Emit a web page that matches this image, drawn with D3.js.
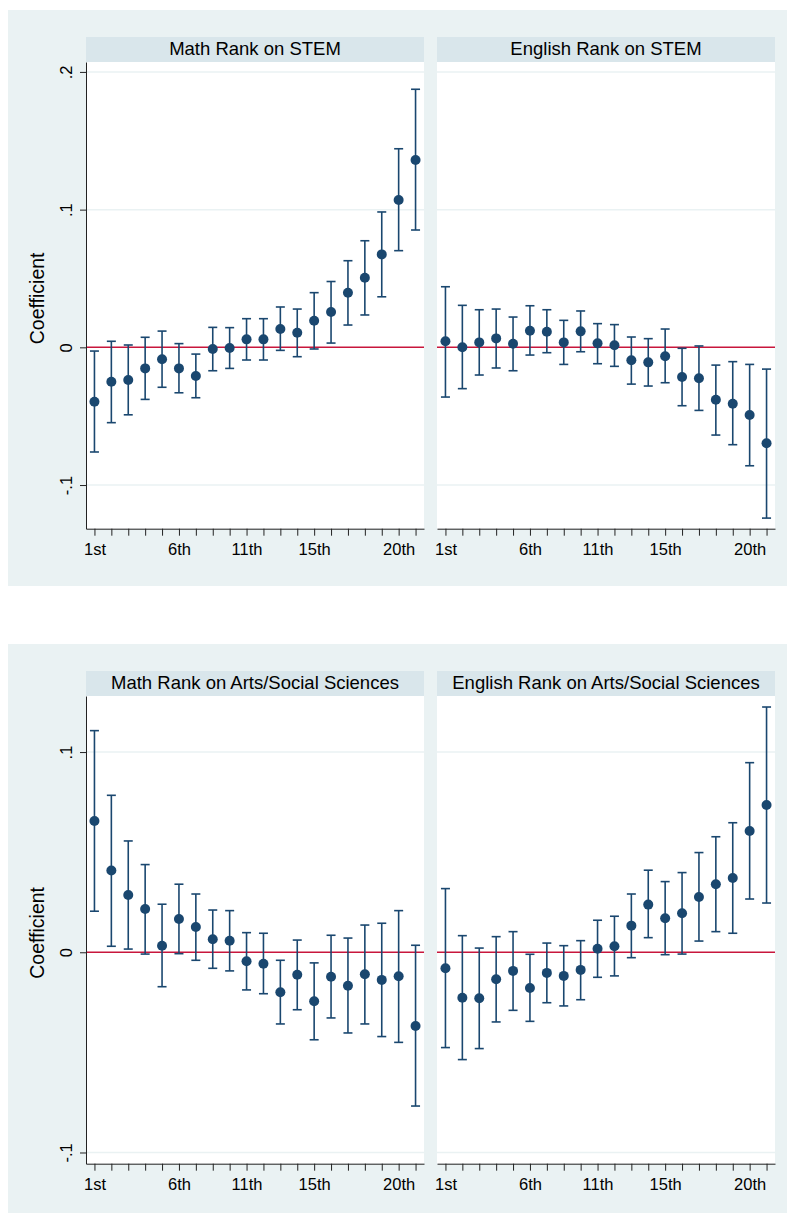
<!DOCTYPE html>
<html>
<head>
<meta charset="utf-8">
<script src="https://cdn.jsdelivr.net/npm/d3@7"></script>
<style>
body { margin: 0; background: #fff; }
text { font-family: "Liberation Sans", Arial, Helvetica, sans-serif; fill: #000; }
</style>
</head>
<body>
<script>
(function(){

//rank positions on the x axis and the labelled ones
var ranks = d3.range(1, 21);
var rankLabels = {1: "1st", 6: "6th", 10: "11th", 14: "15th", 19: "20th"};

//y ticks for each figure
var topTicks = [0.2, 0.1, 0, -0.1];
var topTickLabels = [".2", ".1", "0", "-.1"];
var bottomTicks = [0.1, 0, -0.1];
var bottomTickLabels = [".1", "0", "-.1"];

//panel titles
var titles = ["Math Rank on STEM", "English Rank on STEM",
    "Math Rank on Arts/Social Sciences", "English Rank on Arts/Social Sciences"];

//Math rank on STEM
var mathStemCoef = [-0.0395, -0.025, -0.0237, -0.0153, -0.0087, -0.0153, -0.0208, -0.0012, -0.0005, 0.0058,
    0.0058, 0.0133, 0.0106, 0.0193, 0.0256, 0.0397, 0.0505, 0.0675, 0.107, 0.136];
var mathStemLo = [-0.076, -0.0547, -0.049, -0.0378, -0.029, -0.033, -0.0366, -0.017, -0.0153, -0.0092,
    -0.0092, -0.0022, -0.0068, -0.0012, 0.0031, 0.0162, 0.0235, 0.0367, 0.0702, 0.0852];
var mathStemHi = [-0.0027, 0.0044, 0.0017, 0.0073, 0.0118, 0.0027, -0.0049, 0.0145, 0.0143, 0.0208,
    0.0208, 0.0293, 0.0278, 0.0397, 0.0478, 0.0629, 0.0774, 0.0983, 0.1442, 0.1874];

//English rank on STEM
var engStemCoef = [0.0044, 0.0, 0.0036, 0.0065, 0.0026, 0.0121, 0.0113, 0.0036, 0.0116, 0.0029,
    0.0015, -0.0094, -0.0109, -0.0065, -0.0216, -0.0225, -0.038, -0.041, -0.0492, -0.0697];
var engStemLo = [-0.0361, -0.030, -0.0201, -0.015, -0.017, -0.0056, -0.0039, -0.0124, -0.0032, -0.0119,
    -0.0138, -0.0267, -0.0281, -0.0257, -0.0424, -0.0458, -0.0637, -0.0707, -0.086, -0.124];
var engStemHi = [0.044, 0.0305, 0.0273, 0.0278, 0.022, 0.0302, 0.0273, 0.0196, 0.0264, 0.0172,
    0.0165, 0.0075, 0.0063, 0.0133, -0.0007, 0.001, -0.0129, -0.0104, -0.0124, -0.0158];

//Math rank on Arts/Social Sciences
var mathArtsCoef = [0.0656, 0.0408, 0.0286, 0.0216, 0.0033, 0.0166, 0.0126, 0.0065, 0.0058, -0.0045,
    -0.0057, -0.02, -0.0112, -0.0245, -0.0122, -0.0167, -0.011, -0.0138, -0.012, -0.0368];
var mathArtsLo = [0.0205, 0.003, 0.0016, -0.0009, -0.0172, -0.0007, -0.004, -0.008, -0.0093, -0.0188,
    -0.0207, -0.0358, -0.0287, -0.0437, -0.0328, -0.0403, -0.0358, -0.0421, -0.045, -0.0768];
var mathArtsHi = [0.1107, 0.0784, 0.0556, 0.0438, 0.024, 0.034, 0.0291, 0.0211, 0.0208, 0.0098,
    0.0095, -0.004, 0.0061, -0.0053, 0.0085, 0.0071, 0.0136, 0.0145, 0.0208, 0.0035];

//English rank on Arts/Social Sciences
var engArtsCoef = [-0.008, -0.0227, -0.023, -0.0135, -0.0093, -0.0178, -0.0103, -0.0118, -0.0088, 0.0018,
    0.003, 0.0133, 0.0238, 0.017, 0.0195, 0.0276, 0.034, 0.0371, 0.0606, 0.0736];
var engArtsLo = [-0.0476, -0.0536, -0.0481, -0.0348, -0.029, -0.0345, -0.0252, -0.0268, -0.0237, -0.0125,
    -0.0118, -0.0027, 0.0073, -0.0012, -0.0009, 0.0056, 0.0103, 0.0095, 0.0266, 0.0246];
var engArtsHi = [0.0318, 0.0083, 0.0021, 0.0078, 0.0103, -0.001, 0.0046, 0.0033, 0.0058, 0.016,
    0.018, 0.0291, 0.041, 0.0353, 0.0398, 0.0498, 0.0577, 0.0647, 0.0947, 0.1225];

//stata s2color look
var navy = "#1a476f",
    bgColor = "#eaf2f3",
    stripColor = "#d9e6eb",
    zeroColor = "#c8163c";

var width = 788,
    height = 1213;

var svg = d3.select("body")
    .append("svg")
    .attr("width", width)
    .attr("height", height);

//two figures, each with two panels side by side
var figures = [
    {bgTop: 10, bgH: 576, stripTop: 37, plotTop: 62, plotBottom: 528.7,
        yDomain: [-0.1317, 0.2072], ticks: topTicks, tickLabels: topTickLabels,
        panels: [
            {title: titles[0], coef: mathStemCoef, lo: mathStemLo, hi: mathStemHi},
            {title: titles[1], coef: engStemCoef, lo: engStemLo, hi: engStemHi}
        ]},
    {bgTop: 644, bgH: 569, stripTop: 671, plotTop: 696, plotBottom: 1163.7,
        yDomain: [-0.1056, 0.128], ticks: bottomTicks, tickLabels: bottomTickLabels,
        panels: [
            {title: titles[2], coef: mathArtsCoef, lo: mathArtsLo, hi: mathArtsHi},
            {title: titles[3], coef: engArtsCoef, lo: engArtsLo, hi: engArtsHi}
        ]}
];

var panelX = [[86, 424], [437, 775]];

figures.forEach(function(fig){
    //figure background
    svg.append("rect")
        .attr("x", 8)
        .attr("y", fig.bgTop)
        .attr("width", 779)
        .attr("height", fig.bgH)
        .style("fill", bgColor);

    var y = d3.scaleLinear()
        .domain(fig.yDomain)
        .range([fig.plotBottom, fig.plotTop]);

    fig.panels.forEach(function(p, i){
        var x = d3.scaleLinear()
            .domain([0.5, 20.5])
            .range(panelX[i]);
        drawPanel(p, x, y, fig, i);
    });

    //y axis on the left panel only
    var yAxis = d3.axisLeft(y)
        .tickValues(fig.ticks)
        .tickSize(6)
        .tickSizeOuter(0)
        .tickFormat(function(d, j){ return fig.tickLabels[j]; });

    var yg = svg.append("g")
        .attr("transform", "translate(" + panelX[0][0] + ",0)")
        .call(yAxis);
    yg.select(".domain").attr("stroke", "#222");
    yg.selectAll(".tick line").attr("stroke", "#222");
    yg.selectAll(".tick text")
        .attr("transform", "rotate(-90)")
        .attr("x", 0)
        .attr("y", -14)
        .attr("dy", 0)
        .attr("text-anchor", "middle")
        .style("font-size", "16.5px")
        .style("fill", "#000");

    //axis title
    var midY = (fig.plotTop + fig.plotBottom) / 2 + 3;
    svg.append("text")
        .attr("transform", "translate(44," + midY + ") rotate(-90)")
        .attr("text-anchor", "middle")
        .style("font-size", "19.5px")
        .text("Coefficient");
});

function drawPanel(p, x, y, fig, i){
    var x0 = panelX[i][0],
        x1 = panelX[i][1];

    //plot region
    svg.append("rect")
        .attr("x", x0)
        .attr("y", fig.plotTop)
        .attr("width", x1 - x0)
        .attr("height", fig.plotBottom - fig.plotTop)
        .style("fill", "#fff");

    //strip with title
    svg.append("rect")
        .attr("x", x0)
        .attr("y", fig.stripTop)
        .attr("width", x1 - x0)
        .attr("height", fig.plotTop - fig.stripTop)
        .style("fill", stripColor);

    svg.append("text")
        .attr("x", (x0 + x1) / 2)
        .attr("y", fig.stripTop + 17.5)
        .attr("text-anchor", "middle")
        .style("font-size", "18.5px")
        .text(p.title);

    //gridlines
    svg.selectAll(null)
        .data(fig.ticks.filter(function(d){ return d !== 0; }))
        .enter()
        .append("line")
        .attr("x1", x0)
        .attr("x2", x1)
        .attr("y1", function(d){ return y(d); })
        .attr("y2", function(d){ return y(d); })
        .style("stroke", bgColor)
        .style("stroke-width", 1.5);

    //zero reference line
    svg.append("line")
        .attr("x1", x0)
        .attr("x2", x1)
        .attr("y1", y(0))
        .attr("y2", y(0))
        .style("stroke", zeroColor)
        .style("stroke-width", 1.5);

    //x axis
    var xAxis = d3.axisBottom(x)
        .tickValues(ranks)
        .tickSize(7)
        .tickSizeOuter(0)
        .tickFormat(function(d){ return rankLabels[d] || ""; });

    var xg = svg.append("g")
        .attr("transform", "translate(0," + fig.plotBottom + ")")
        .call(xAxis);
    xg.select(".domain").attr("stroke", "#222");
    xg.selectAll(".tick line").attr("stroke", "#222");
    xg.selectAll(".tick text")
        .attr("y", 11)
        .attr("dy", "0.9em")
        .style("font-size", "16.5px")
        .style("fill", "#000");

    //confidence intervals
    var bars = svg.append("g")
        .style("stroke", navy)
        .style("stroke-width", 1.6);

    bars.selectAll(".ci")
        .data(ranks)
        .enter()
        .append("line")
        .attr("x1", function(d){ return x(d); })
        .attr("x2", function(d){ return x(d); })
        .attr("y1", function(d, j){ return y(p.lo[j]); })
        .attr("y2", function(d, j){ return y(p.hi[j]); });

    [p.lo, p.hi].forEach(function(ends){
        bars.selectAll(null)
            .data(ranks)
            .enter()
            .append("line")
            .attr("x1", function(d){ return x(d) - 4.5; })
            .attr("x2", function(d){ return x(d) + 4.5; })
            .attr("y1", function(d, j){ return y(ends[j]); })
            .attr("y2", function(d, j){ return y(ends[j]); });
    });

    //point estimates
    svg.selectAll(null)
        .data(ranks)
        .enter()
        .append("circle")
        .attr("cx", function(d){ return x(d); })
        .attr("cy", function(d, j){ return y(p.coef[j]); })
        .attr("r", 5)
        .style("fill", navy);
};

})();
</script>
</body>
</html>
